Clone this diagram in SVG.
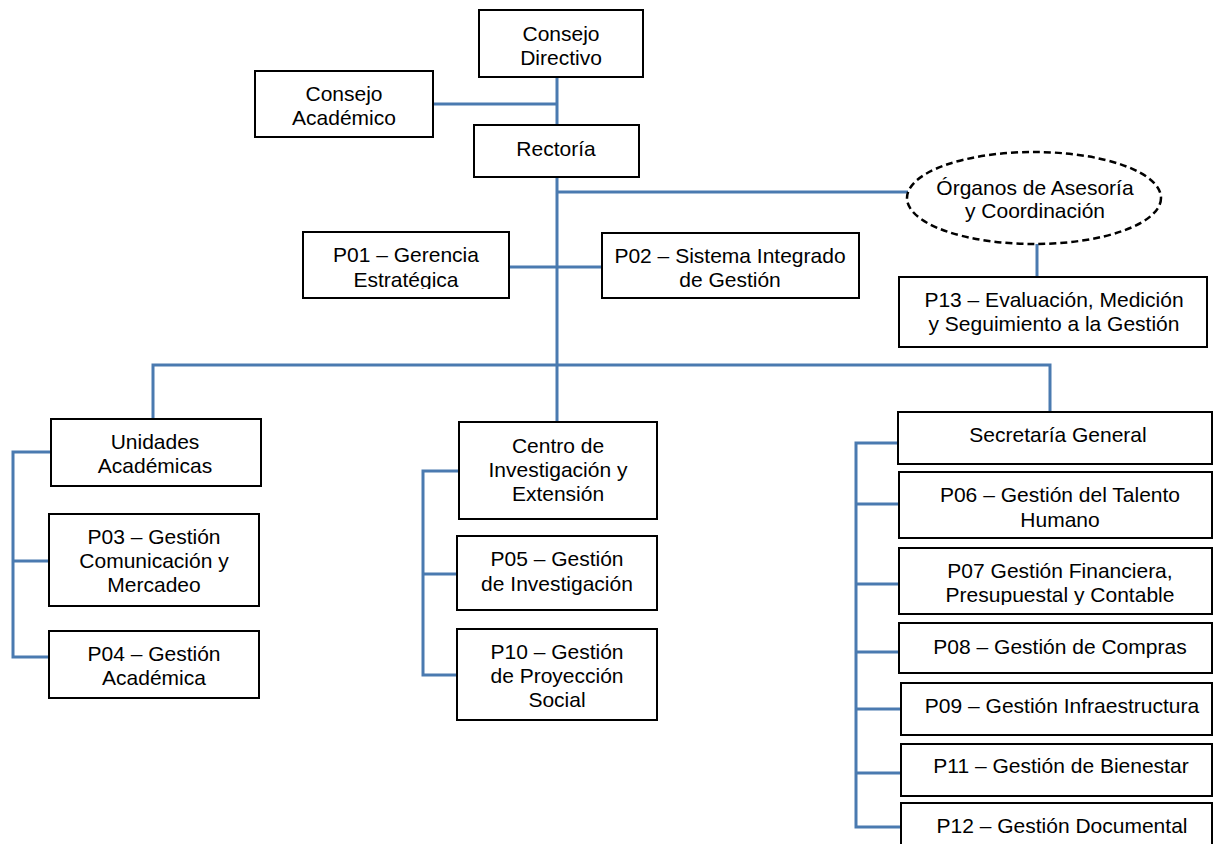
<svg xmlns="http://www.w3.org/2000/svg" width="1213" height="844" viewBox="0 0 1213 844">
  <style>
    .box { fill: #ffffff; stroke: #000000; stroke-width: 2; }
    .oval { fill: #ffffff; stroke: #000000; stroke-width: 2.5; stroke-dasharray: 7 4; }
    .wire { fill: none; stroke: #4a7ab0; stroke-width: 3; }
    text { font-family: "Liberation Sans", Arial, sans-serif; font-size: 21px; fill: #000000; text-anchor: middle; }
  </style>
  <defs>
    <clipPath id="clip-p01"><rect x="303" y="232" width="206" height="57"/></clipPath>
    <clipPath id="clip-p07"><rect x="899" y="548" width="314" height="57"/></clipPath>
  </defs>

  <rect width="1213" height="844" fill="#ffffff"/>

  <!-- connectors -->
  <g id="connectors">
    <path class="wire" d="M557 77 V125 M433 104 H557"/>
    <path class="wire" d="M557 177 V422 M557 192 H908 M510 267 H602"/>
    <path class="wire" d="M1037 244 V277"/>
    <path class="wire" d="M153 419 V365 H1050 V412"/>
    <path class="wire" d="M51 452 H13 V657 H49 M13 561 H49"/>
    <path class="wire" d="M459 471 H423 V675 H457 M423 574 H457"/>
    <path class="wire" d="M898 443 H856 V827 H901 M856 504 H899 M856 584 H899 M856 652 H899 M856 709 H901 M856 773 H901"/>
  </g>

  <g id="consejo-directivo">
    <rect class="box" x="479" y="10" width="164" height="67"/>
    <text x="561" y="41">Consejo</text>
    <text x="561" y="65">Directivo</text>
  </g>

  <g id="consejo-academico">
    <rect class="box" x="255" y="71" width="178" height="66"/>
    <text x="344" y="101">Consejo</text>
    <text x="344" y="125">Académico</text>
  </g>

  <g id="rectoria">
    <rect class="box" x="474" y="125" width="165" height="52"/>
    <text x="556" y="156">Rectoría</text>
  </g>

  <g id="organos">
    <ellipse class="oval" cx="1034" cy="198" rx="127" ry="46"/>
    <text x="1035" y="195">Órganos de Asesoría</text>
    <text x="1035" y="218">y Coordinación</text>
  </g>

  <g id="p01">
    <rect class="box" x="303" y="232" width="206" height="66"/>
    <g clip-path="url(#clip-p01)">
      <text x="406" y="262">P01 – Gerencia</text>
      <text x="406" y="287">Estratégica</text>
    </g>
  </g>

  <g id="p02">
    <rect class="box" x="602" y="233" width="257" height="65"/>
    <text x="730" y="263">P02 – Sistema Integrado</text>
    <text x="730" y="287">de Gestión</text>
  </g>

  <g id="p13">
    <rect class="box" x="899" y="277" width="308" height="70"/>
    <text x="1054" y="307">P13 – Evaluación, Medición</text>
    <text x="1054" y="331">y Seguimiento a la Gestión</text>
  </g>

  <g id="unidades">
    <rect class="box" x="51" y="419" width="210" height="67"/>
    <text x="155" y="449">Unidades</text>
    <text x="155" y="473">Académicas</text>
  </g>

  <g id="p03">
    <rect class="box" x="49" y="514" width="210" height="92"/>
    <text x="154" y="544">P03 – Gestión</text>
    <text x="154" y="568">Comunicación y</text>
    <text x="154" y="592">Mercadeo</text>
  </g>

  <g id="p04">
    <rect class="box" x="49" y="631" width="210" height="67"/>
    <text x="154" y="661">P04 – Gestión</text>
    <text x="154" y="685">Académica</text>
  </g>

  <g id="centro">
    <rect class="box" x="459" y="422" width="198" height="97"/>
    <text x="558" y="453">Centro de</text>
    <text x="558" y="477">Investigación y</text>
    <text x="558" y="501">Extensión</text>
  </g>

  <g id="p05">
    <rect class="box" x="457" y="536" width="200" height="74"/>
    <text x="557" y="566">P05 – Gestión</text>
    <text x="557" y="591">de Investigación</text>
  </g>

  <g id="p10">
    <rect class="box" x="457" y="629" width="200" height="91"/>
    <text x="557" y="659">P10 – Gestión</text>
    <text x="557" y="683">de Proyección</text>
    <text x="557" y="707">Social</text>
  </g>

  <g id="secretaria">
    <rect class="box" x="898" y="412" width="314" height="52"/>
    <text x="1058" y="442">Secretaría General</text>
  </g>

  <g id="p06">
    <rect class="box" x="899" y="472" width="313" height="66"/>
    <text x="1060" y="502">P06 – Gestión del Talento</text>
    <text x="1060" y="527">Humano</text>
  </g>

  <g id="p07">
    <rect class="box" x="899" y="548" width="313" height="66"/>
    <g clip-path="url(#clip-p07)">
      <text x="1060" y="578">P07 Gestión Financiera,</text>
      <text x="1060" y="602">Presupuestal y Contable</text>
    </g>
  </g>

  <g id="p08">
    <rect class="box" x="899" y="623" width="313" height="50"/>
    <text x="1060" y="654">P08 – Gestión de Compras</text>
  </g>

  <g id="p09">
    <rect class="box" x="901" y="683" width="311" height="52"/>
    <text x="1062" y="713">P09 – Gestión Infraestructura</text>
  </g>

  <g id="p11">
    <rect class="box" x="901" y="744" width="311" height="52"/>
    <text x="1061" y="773">P11 – Gestión de Bienestar</text>
  </g>

  <g id="p12">
    <rect class="box" x="901" y="803" width="311" height="50"/>
    <text x="1062" y="833">P12 – Gestión Documental</text>
  </g>
</svg>
